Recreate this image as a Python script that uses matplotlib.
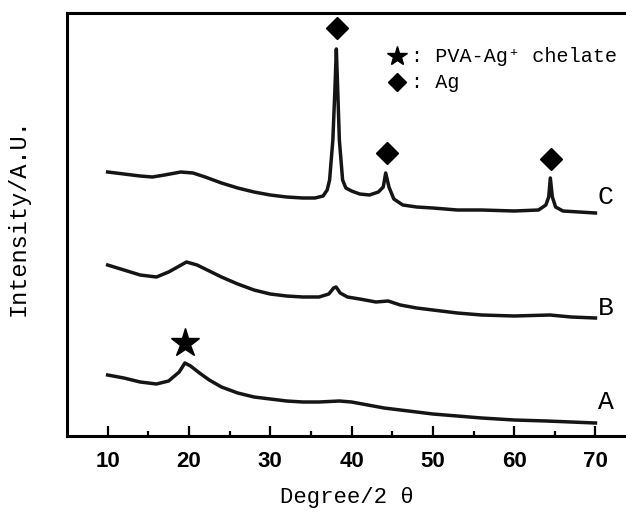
import matplotlib
matplotlib.use("Agg")
import matplotlib.pyplot as plt
from matplotlib.ticker import FixedLocator

# ---- data (intensity in arbitrary units) ----
deg_C = [10, 12, 14, 15.5, 17, 19, 20.5, 22, 24, 26, 28, 30, 32, 34, 35.5, 36.5,
         37.0, 37.3, 37.7, 37.95, 38.13, 38.3, 38.5, 38.9, 39.3, 40, 41, 42.2,
         43.3, 43.9, 44.2, 44.6, 45.2, 46.3, 48, 50, 53, 56, 60, 63, 63.9, 64.25,
         64.45, 64.7, 65.1, 66, 68, 70]
int_C = [264, 262, 260, 259, 261, 264, 263, 259, 253, 248, 244, 241, 239, 238, 238, 240,
         246, 256, 296, 346, 387, 346, 296, 256, 248, 245, 242, 241,
         244, 249, 263, 249, 237, 231, 229, 228, 226, 226, 225, 226, 231, 239,
         258, 239, 229, 225, 224, 223]

deg_B = [10, 12, 14, 16, 17.5, 19.7, 21, 22.5, 24, 26, 28, 30, 32, 34, 36, 37.2,
         37.8, 38.1, 38.6, 39.5, 41, 43, 44.5, 46, 48, 50, 53, 56, 60, 64.4, 67, 70]
int_B = [171, 166, 161, 159, 164, 174, 171, 165, 159, 152, 146, 142, 140, 139, 139, 142,
         148, 149, 143, 139, 137, 134, 135, 131, 128, 126, 123, 121, 120, 121, 119, 118]

deg_A = [10, 12, 14, 16, 17.5, 18.8, 19.5, 20.2, 21.3, 22.5, 24, 26, 28, 30, 32, 34,
         36, 38.5, 40, 42, 44, 46, 48, 50, 53, 56, 60, 64, 67, 70]
int_A = [61, 58, 54, 52, 55, 64, 73, 70, 63, 56, 49, 43, 39, 37, 35, 34,
         34, 35, 34, 31, 28, 26, 24, 22, 20, 18, 16, 15, 14, 13]

curve_names = ["A", "B", "C"]
label_pos = [(70.3, 34), (70.3, 128), (70.3, 239)]

ag_peaks_x = [38.2, 44.3, 64.5]
ag_marks_y = [408, 283, 277]
star_x, star_y = [19.5], [93]

xticks_major = [10, 20, 30, 40, 50, 60, 70]
xticks_minor = [15, 25, 35, 45, 55, 65]

# ---- figure ----
fig = plt.figure(figsize=(6.26, 5.15), dpi=100)
left = 67 / 626
bottom = 1 - 436 / 515
height = (436 - 13) / 515
width = (70 * 8.13) / 626
ax = fig.add_axes([left, bottom, width, height])
ax.set_xlim(5, 75)
ax.set_ylim(0, 423)

lc = "#151515"
for d, v in [(deg_A, int_A), (deg_B, int_B), (deg_C, int_C)]:
    ax.plot(d, v, color=lc, lw=2.5, solid_joinstyle="round")

serif_mono = ["Liberation Mono", "DejaVu Sans Mono", "Noto Sans CJK SC"]
for name, (x, y) in zip(curve_names, label_pos):
    ax.text(x, y, name, family=serif_mono, fontsize=19, ha="left", va="center")

ax.plot(ag_peaks_x, ag_marks_y, linestyle="none", marker="D", markersize=11,
        color="black", clip_on=False)
ax.plot(star_x, star_y, linestyle="none", marker="*", markersize=21,
        color="black")

# legend-like annotations
ax.plot([45.55], [380], marker="*", markersize=15, color="black")
ax.plot([45.65], [354], marker="D", markersize=9, color="black")
ax.text(47.3, 380, ": PVA-Ag⁺ chelate", family=serif_mono, fontsize=14.5,
        ha="left", va="center")
ax.text(47.3, 354, ": Ag", family=serif_mono, fontsize=14.5,
        ha="left", va="center")

# axes styling
for s in ["left", "bottom", "top", "right"]:
    ax.spines[s].set_linewidth(2.2)
ax.xaxis.set_major_locator(FixedLocator(xticks_major))
ax.xaxis.set_minor_locator(FixedLocator(xticks_minor))
ax.tick_params(axis="x", which="major", direction="in", length=7, width=1.6,
               pad=11, labelsize=16)
ax.tick_params(axis="x", which="minor", direction="in", length=3.8, width=1.6)
ax.tick_params(axis="x", which="both", top=False)
ax.set_yticks([])
for lab in ax.get_xticklabels():
    lab.set_fontfamily("Liberation Sans")
    lab.set_fontweight("bold")

fig.text(347 / 626, 1 - 497 / 515, "Degree/2 θ", family=serif_mono, fontsize=16,
         ha="center", va="center")
fig.text(18 / 626, 1 - 217 / 515, "Intensity/A.U.", family=serif_mono,
         fontsize=17, rotation=90, ha="center", va="center")

fig.savefig("out.png", dpi=100)
